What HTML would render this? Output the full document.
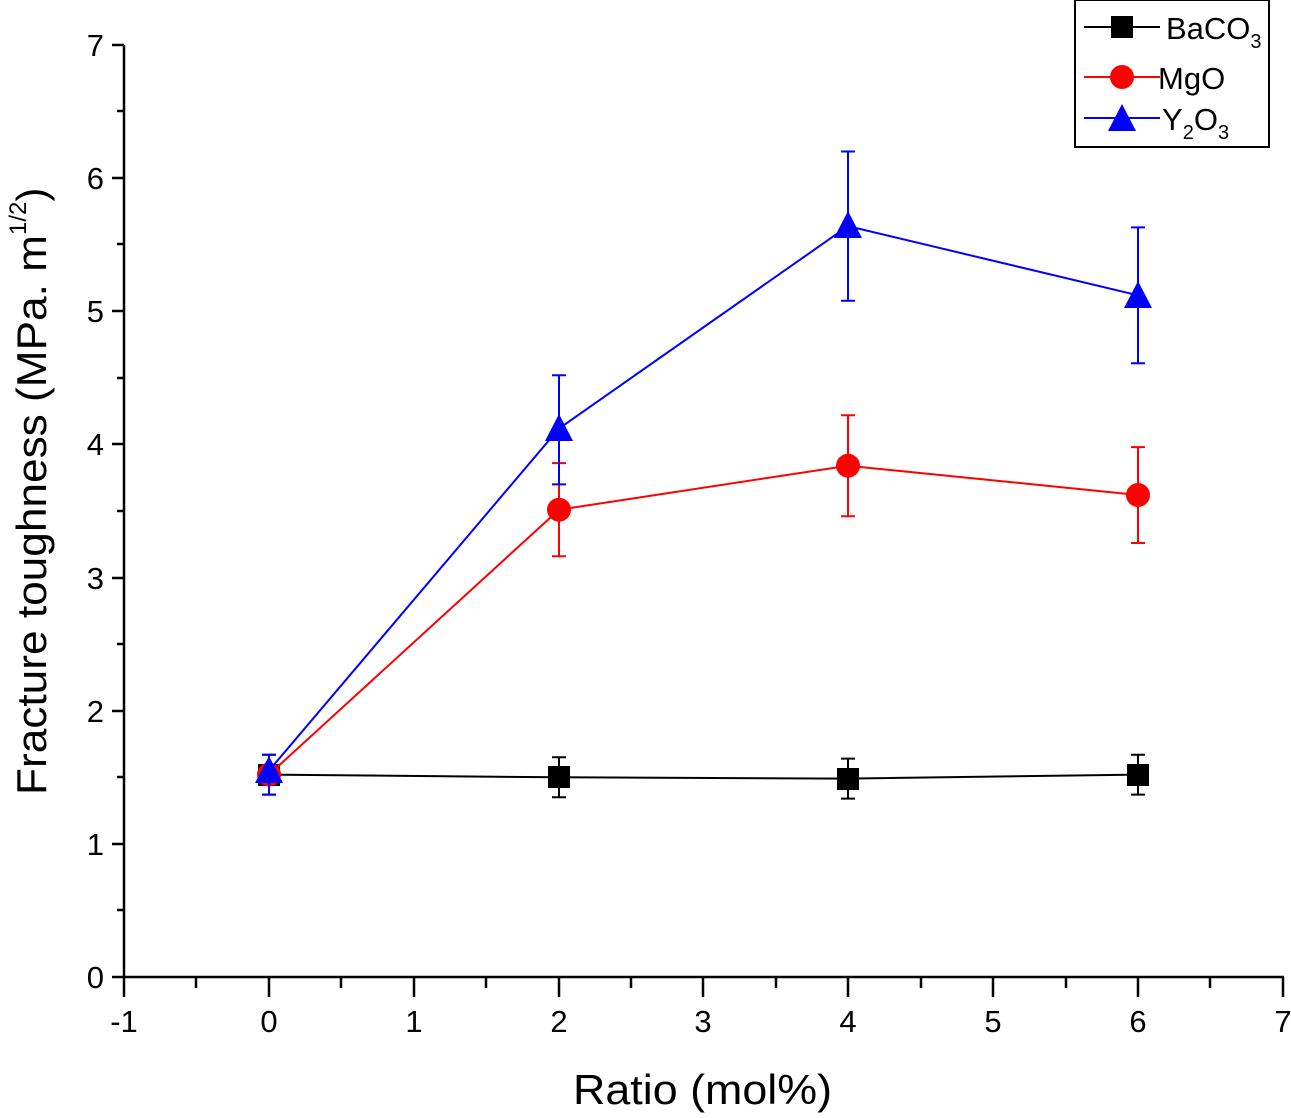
<!DOCTYPE html>
<html><head><meta charset="utf-8"><style>body{margin:0;background:#fff}svg{display:block}</style></head><body>
<svg width="1291" height="1118" xmlns="http://www.w3.org/2000/svg" font-family="Liberation Sans, Arial, sans-serif">
<g stroke="#000" stroke-width="2.5" fill="none">
<line x1="124" y1="45" x2="124" y2="978"/>
<line x1="123" y1="977" x2="1284" y2="977"/>
<path d="M112 977H124M112 844H124M112 711H124M112 578H124M112 444H124M112 311H124M112 178H124M112 45H124"/>
<path d="M117 910H124M117 777H124M117 644H124M117 511H124M117 378H124M117 244H124M117 111H124"/>
<path d="M124 977V997M269 977V997M414 977V997M559 977V997M703 977V997M848 977V997M993 977V997M1138 977V997M1283 977V997"/>
<path d="M196 977V988M341 977V988M486 977V988M631 977V988M776 977V988M921 977V988M1066 977V988M1210 977V988"/>
</g>
<g font-size="31" fill="#000" text-anchor="end">
<text x="104" y="988">0</text><text x="104" y="855">1</text><text x="104" y="722">2</text><text x="104" y="589">3</text><text x="104" y="455">4</text><text x="104" y="322">5</text><text x="104" y="189">6</text><text x="104" y="56">7</text>
</g>
<g font-size="31" fill="#000" text-anchor="middle">
<text x="124" y="1032">-1</text><text x="269" y="1032">0</text><text x="414" y="1032">1</text><text x="559" y="1032">2</text><text x="703" y="1032">3</text><text x="848" y="1032">4</text><text x="993" y="1032">5</text><text x="1138" y="1032">6</text><text x="1283" y="1032">7</text>
</g>
<text x="573" y="1104" font-size="42" textLength="259" lengthAdjust="spacingAndGlyphs">Ratio (mol%)</text>
<text transform="translate(46,795) rotate(-90)" font-size="42"><tspan textLength="560" lengthAdjust="spacingAndGlyphs">Fracture toughness (MPa. m</tspan><tspan dy="-20" font-size="24">1/2</tspan><tspan dy="20">)</tspan></text>
<g stroke="#000" stroke-width="2" fill="none">
<polyline points="269,774.6 559,777.3 848,778.6 1138,774.6"/>
<path d="M269 794.6V754.7M262 794.6H276M262 754.7H276M559 797.3V757.3M552 797.3H566M552 757.3H566M848 798.6V758.6M841 798.6H855M841 758.6H855M1138 794.6V754.7M1131 794.6H1145M1131 754.7H1145"/>
</g>
<g fill="#000"><rect x="258" y="764" width="22" height="22"/><rect x="548" y="766" width="22" height="22"/><rect x="837" y="768" width="22" height="22"/><rect x="1127" y="764" width="22" height="22"/></g>
<g stroke="#f00" stroke-width="2" fill="none">
<polyline points="269,774.6 559,509.7 848,465.7 1138,495"/>
<path d="M559 556.3V463.1M552 556.3H566M552 463.1H566M848 516.3V415.2M841 516.3H855M841 415.2H855M1138 543V447.1M1131 543H1145M1131 447.1H1145"/>
</g>
<g fill="#f00"><circle cx="269" cy="774.6" r="12"/><circle cx="559" cy="509.7" r="12"/><circle cx="848" cy="465.7" r="12"/><circle cx="1138" cy="495" r="12"/></g>
<g stroke="#00f" stroke-width="2" fill="none">
<polyline points="269,770.6 559,428.5 848,226.1 1138,295.3"/>
<path d="M269 794.6V754.7M262 794.6H276M262 754.7H276M559 484.4V375.2M552 484.4H566M552 375.2H566M848 300.7V151.5M841 300.7H855M841 151.5H855M1138 363.2V227.4M1131 363.2H1145M1131 227.4H1145"/>
</g>
<g fill="#00f"><path d="M269 756L283 783H255Z"/><path d="M559 414L573 441H545Z"/><path d="M848 211L862 238H834Z"/><path d="M1138 281L1152 308H1124Z"/></g>
<rect x="1075" y="0" width="194" height="147" fill="#fff" stroke="#000" stroke-width="2"/>
<line x1="1084" y1="27" x2="1160" y2="27" stroke="#000" stroke-width="2"/><rect x="1111" y="16" width="22" height="22" fill="#000"/>
<text x="1166" y="39" font-size="31">BaCO<tspan dy="9" font-size="20">3</tspan></text>
<line x1="1084" y1="77" x2="1160" y2="77" stroke="#f00" stroke-width="2"/><circle cx="1122" cy="77" r="12" fill="#f00"/>
<text x="1158" y="89" font-size="31">MgO</text>
<line x1="1084" y1="118" x2="1160" y2="118" stroke="#00f" stroke-width="2"/><path d="M1122 104L1136 131H1108Z" fill="#00f"/>
<text x="1162" y="130" font-size="31">Y<tspan dy="9" font-size="20">2</tspan><tspan dy="-9">O</tspan><tspan dy="9" font-size="20">3</tspan></text>
</svg>
</body></html>
